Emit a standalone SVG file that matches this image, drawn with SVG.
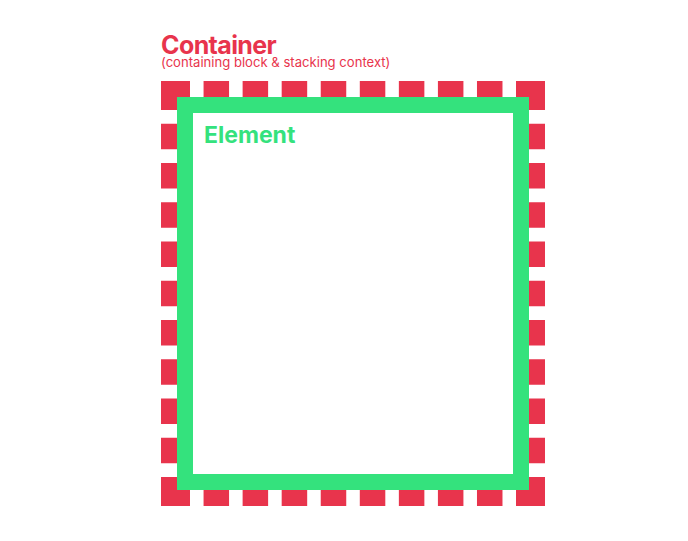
<svg xmlns="http://www.w3.org/2000/svg" width="688" height="541" viewBox="0 0 688 541">
  <style>
    .red { fill: #E8344C; }
    .rdash { stroke: #E8344C; stroke-width: 16; fill: none; stroke-dashoffset: 25.5; }
    .h { stroke-dasharray: 25.5 13.56; }
    .v { stroke-dasharray: 25.5 13.75; }
    .green { fill: none; stroke: #34E27D; stroke-width: 16; }
    .title { font-family: Inter, "Noto Sans", sans-serif; font-weight: 700; }
    .sub { font-family: Inter, "Noto Sans", sans-serif; font-weight: 400; }
  </style>
  <rect width="688" height="541" fill="#FFFFFF"/>
  <g id="container">
    <text class="title" x="161" y="54" font-size="25" letter-spacing="-0.6" fill="#E8344C">Container</text>
    <text class="sub" x="161" y="67" font-size="13.1" fill="#E8344C">(containing block &amp; stacking context)</text>
    <rect class="red" x="161" y="81" width="29" height="29"/>
    <rect class="red" x="516" y="81" width="29" height="29"/>
    <rect class="red" x="161" y="477" width="29" height="29"/>
    <rect class="red" x="516" y="477" width="29" height="29"/>
    <line class="rdash h" x1="190" y1="89" x2="516" y2="89"/>
    <line class="rdash h" x1="190" y1="498" x2="516" y2="498"/>
    <line class="rdash v" x1="169" y1="110" x2="169" y2="477"/>
    <line class="rdash v" x1="537" y1="110" x2="537" y2="477"/>
  </g>
  <g id="element">
    <rect class="green" x="185" y="105" width="336" height="377"/>
    <text class="title" x="204" y="143" font-size="23" fill="#34E27D">Element</text>
  </g>
  <g id="connectors"/>
</svg>
